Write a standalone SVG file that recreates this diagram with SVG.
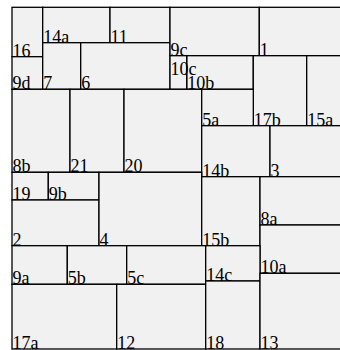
<svg xmlns="http://www.w3.org/2000/svg" width="340" height="350" viewBox="0 0 340 350">
<style>
rect{fill:#f1f1f1;stroke:#000;stroke-width:1.3}
text{font-family:"Liberation Serif","Times New Roman",serif;font-size:18px;fill:#000}
</style>
<rect x="0" y="0" width="340" height="350" style="fill:#fff;stroke:none"/>
<g id="n16"><rect x="12" y="7.3" width="30.7" height="49.4"/><text x="12.5" y="56.7">16</text></g>
<g id="n9d"><rect x="12" y="56.7" width="30.7" height="32.6"/><text x="12.5" y="89.3">9d</text></g>
<g id="n14a"><rect x="42.7" y="7.3" width="67.3" height="35.4"/><text x="43.2" y="42.7">14a</text></g>
<g id="n11"><rect x="110" y="7.3" width="60" height="35.4"/><text x="110.5" y="42.7">11</text></g>
<g id="n7"><rect x="42.7" y="42.7" width="38" height="46.6"/><text x="43.2" y="89.3">7</text></g>
<g id="n6"><rect x="80.7" y="42.7" width="89.3" height="46.6"/><text x="81.2" y="89.3">6</text></g>
<g id="n9c"><rect x="170" y="7.3" width="89.3" height="48.4"/><text x="170.5" y="55.7">9c</text></g>
<g id="n1"><rect x="259.3" y="7.3" width="82" height="48.4"/><text x="259.8" y="55.7">1</text></g>
<g id="n10b"><rect x="186.7" y="55.7" width="66.6" height="33.6"/><text x="187.2" y="89.3">10b</text></g>
<g id="n10c"><rect x="170" y="55.7" width="16.7" height="33.6"/><text x="170.5" y="75">10c</text></g>
<g id="n17b"><rect x="253.3" y="55.7" width="53.4" height="70"/><text x="253.8" y="125.7">17b</text></g>
<g id="n15a"><rect x="306.7" y="55.7" width="34.6" height="70"/><text x="307.2" y="125.7">15a</text></g>
<g id="n8b"><rect x="12" y="89.3" width="58" height="83"/><text x="12.5" y="172.3">8b</text></g>
<g id="n21"><rect x="70" y="89.3" width="54" height="83"/><text x="70.5" y="172.3">21</text></g>
<g id="n20"><rect x="124" y="89.3" width="77.7" height="83"/><text x="124.5" y="172.3">20</text></g>
<g id="n5a"><rect x="201.7" y="89.3" width="51.6" height="36.4"/><text x="202.2" y="125.7">5a</text></g>
<g id="n14b"><rect x="201.7" y="125.7" width="68.3" height="51"/><text x="202.2" y="176.7">14b</text></g>
<g id="n3"><rect x="270" y="125.7" width="71.3" height="51"/><text x="270.5" y="176.7">3</text></g>
<g id="n19"><rect x="12" y="172.3" width="36.3" height="27.7"/><text x="12.5" y="200">19</text></g>
<g id="n9b"><rect x="48.3" y="172.3" width="50.7" height="27.7"/><text x="48.8" y="200">9b</text></g>
<g id="n2"><rect x="12" y="200" width="87" height="45.7"/><text x="12.5" y="245.7">2</text></g>
<g id="n4"><rect x="99" y="172.3" width="102.7" height="73.4"/><text x="99.5" y="245.7">4</text></g>
<g id="n15b"><rect x="201.7" y="176.7" width="58.3" height="69"/><text x="202.2" y="245.7">15b</text></g>
<g id="n8a"><rect x="260" y="176.7" width="81.3" height="48.3"/><text x="260.5" y="225">8a</text></g>
<g id="n10a"><rect x="260" y="225" width="81.3" height="48.3"/><text x="260.5" y="273.3">10a</text></g>
<g id="n9a"><rect x="12" y="245.7" width="55.3" height="38.6"/><text x="12.5" y="284.3">9a</text></g>
<g id="n5b"><rect x="67.3" y="245.7" width="59.4" height="38.6"/><text x="67.8" y="284.3">5b</text></g>
<g id="n5c"><rect x="126.7" y="245.7" width="79" height="38.6"/><text x="127.2" y="284.3">5c</text></g>
<g id="n14c"><rect x="205.7" y="245.7" width="54.3" height="35.3"/><text x="206.2" y="281">14c</text></g>
<g id="n17a"><rect x="12" y="284.3" width="104.7" height="64.7"/><text x="12.5" y="349">17a</text></g>
<g id="n12"><rect x="116.7" y="284.3" width="89" height="64.7"/><text x="117.2" y="349">12</text></g>
<g id="n18"><rect x="205.7" y="281" width="54.3" height="68"/><text x="206.2" y="349">18</text></g>
<g id="n13"><rect x="260" y="273.3" width="81.3" height="75.7"/><text x="260.5" y="349">13</text></g>
<g id="connectors"></g>
</svg>
